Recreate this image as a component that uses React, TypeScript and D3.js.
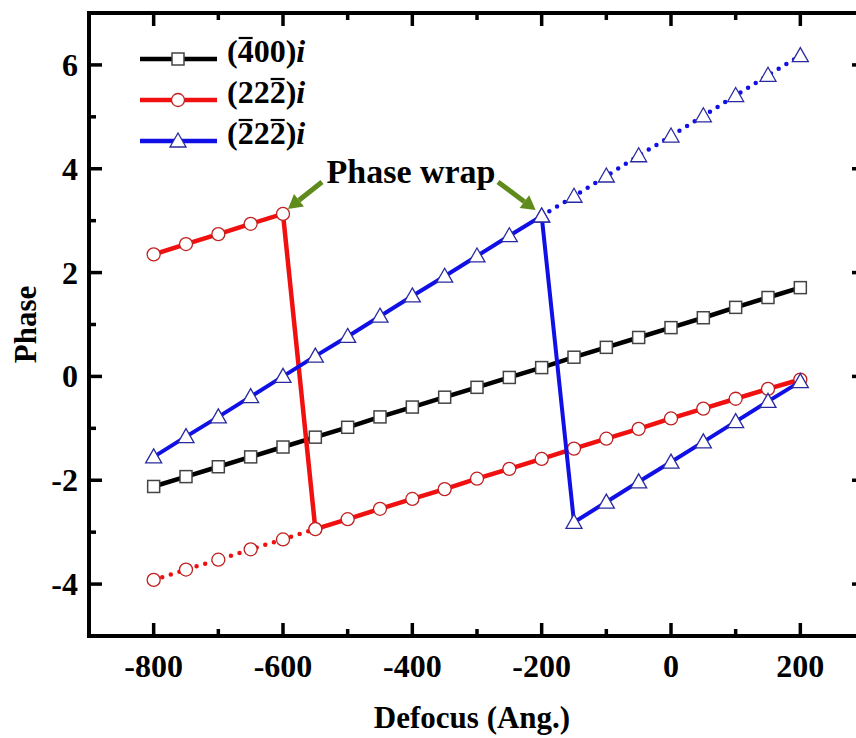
import React, { useEffect, useRef } from 'react';
import * as d3 from 'd3';

const width = 856;
const height = 738;

// defocus values (Ang.)
const defocus = [-800, -750, -700, -650, -600, -550, -500, -450, -400, -350, -300,
  -250, -200, -150, -100, -50, 0, 50, 100, 150, 200];

// (-400)i
const phase400 = [-2.12, -1.93, -1.74, -1.55, -1.36, -1.17, -0.98, -0.78, -0.59, -0.40, -0.21,
  -0.02, 0.17, 0.37, 0.56, 0.75, 0.94, 1.13, 1.33, 1.52, 1.71];

// (22-2)i, wrapped
const phase222 = [2.35, 2.55, 2.74, 2.94, 3.13, -2.94, -2.75, -2.55, -2.36, -2.17, -1.97,
  -1.78, -1.59, -1.39, -1.20, -1.01, -0.81, -0.62, -0.43, -0.24, -0.06];
// (22-2)i, unwrapped part (dotted)
const defocus222Unwrap = [-800, -750, -700, -650, -600, -550];
const phase222Unwrap = [-3.92, -3.72, -3.53, -3.33, -3.14, -2.94];

// (-22-2)i, wrapped
const phaseN222 = [-1.55, -1.16, -0.78, -0.39, 0.0, 0.39, 0.77, 1.16, 1.55, 1.93, 2.32,
  2.71, 3.09, -2.81, -2.42, -2.03, -1.65, -1.26, -0.87, -0.48, -0.10];
// (-22-2)i, unwrapped part (dotted)
const defocusN222Unwrap = [-200, -150, -100, -50, 0, 50, 100, 150, 200];
const phaseN222Unwrap = [3.09, 3.47, 3.86, 4.25, 4.63, 5.02, 5.41, 5.80, 6.18];

const xMajor = [-800, -600, -400, -200, 0, 200];
const xMinor = [-700, -500, -300, -100, 100];
const yMajor = [-4, -2, 0, 2, 4, 6];
const yMinor = [-3, -1, 1, 3, 5];

// legend labels: text + indexes of characters with a bar on top
const legendLabels = ['(400)', '(222)', '(222)'];
const legendBars = [[1], [3], [1, 3]];

const FONT = "'Liberation Serif', 'Times New Roman', serif";

export default function App() {
  const ref = useRef<SVGSVGElement>(null);

  useEffect(() => {
    const svg = d3.select(ref.current);
    svg.selectAll('*').remove();

    const margin = { top: 13, right: -9, bottom: 102, left: 89 };
    const innerW = width - margin.left - margin.right;
    const innerH = height - margin.top - margin.bottom;

    const x = d3.scaleLinear().domain([-900, 300]).range([0, innerW]);
    const y = d3.scaleLinear().domain([-5, 7]).range([innerH, 0]);

    const g = svg.append('g').attr('transform', `translate(${margin.left},${margin.top})`);

    const line = d3.line<[number, number]>()
      .x(d => x(d[0]))
      .y(d => y(d[1]));
    const zip = (xs: number[], ys: number[]) => xs.map((v, i) => [v, ys[i]] as [number, number]);

    // draws one series: line then markers
    function drawSeries(pts: [number, number][], color: string, marker: string, markerStroke: string, dotted: boolean, lw: number) {
      g.append('path')
        .datum(pts)
        .attr('d', line)
        .attr('fill', 'none')
        .attr('stroke', color)
        .attr('stroke-width', dotted ? 4.5 : lw)
        .attr('stroke-linecap', dotted ? 'round' : 'butt')
        .attr('stroke-linejoin', 'round')
        .attr('stroke-dasharray', dotted ? '0 9' : null);
      drawMarkers(g, pts.map(p => [x(p[0]), y(p[1])] as [number, number]), marker, markerStroke);
    }

    function drawMarkers(sel: any, pts: [number, number][], marker: string, stroke: string) {
      pts.forEach(([px, py]) => {
        if (marker === 'square') {
          sel.append('rect').attr('x', px - 6).attr('y', py - 6).attr('width', 12).attr('height', 12)
            .attr('fill', 'white').attr('stroke', stroke).attr('stroke-width', 1.5);
        } else if (marker === 'circle') {
          sel.append('circle').attr('cx', px).attr('cy', py).attr('r', 6.5)
            .attr('fill', 'white').attr('stroke', stroke).attr('stroke-width', 1.3);
        } else {
          sel.append('path')
            .attr('d', `M${px},${py - 8}L${px + 8},${py + 6}L${px - 8},${py + 6}Z`)
            .attr('fill', 'white').attr('stroke', stroke).attr('stroke-width', 1.3);
        }
      });
    }

    const black = '#000000';
    const red = '#f01010';
    const blue = '#1010e6';

    // series
    drawSeries(zip(defocus, phase400), black, 'square', '#444', false, 4.5);
    drawSeries(zip(defocus222Unwrap, phase222Unwrap), red, 'circle', '#c02020', true, 4.5);
    drawSeries(zip(defocus, phase222), red, 'circle', '#c02020', false, 4.5);
    drawSeries(zip(defocusN222Unwrap, phaseN222Unwrap), blue, 'triangle', '#2a2aa0', true, 4.5);
    drawSeries(zip(defocus, phaseN222), blue, 'triangle', '#2a2aa0', false, 4);

    // frame
    g.append('rect').attr('x', 0).attr('y', 0).attr('width', innerW).attr('height', innerH)
      .attr('fill', 'none').attr('stroke', '#000').attr('stroke-width', 4);

    // ticks (inward on all sides)
    const tickW = 3.5;
    const addX = (vals: number[], len: number) => {
      vals.forEach(v => {
        g.append('line').attr('x1', x(v)).attr('x2', x(v)).attr('y1', innerH).attr('y2', innerH - len)
          .attr('stroke', '#000').attr('stroke-width', tickW);
        g.append('line').attr('x1', x(v)).attr('x2', x(v)).attr('y1', 0).attr('y2', len)
          .attr('stroke', '#000').attr('stroke-width', tickW);
      });
    };
    const addY = (vals: number[], len: number) => {
      vals.forEach(v => {
        g.append('line').attr('x1', 0).attr('x2', len).attr('y1', y(v)).attr('y2', y(v))
          .attr('stroke', '#000').attr('stroke-width', tickW);
        g.append('line').attr('x1', innerW).attr('x2', innerW - len).attr('y1', y(v)).attr('y2', y(v))
          .attr('stroke', '#000').attr('stroke-width', tickW);
      });
    };
    addX(xMajor, 13);
    addX(xMinor, 7);
    addY(yMajor, 13);
    addY(yMinor, 7);

    // tick labels
    g.selectAll('.xlab').data(xMajor).enter().append('text')
      .attr('x', d => x(d)).attr('y', innerH + 41)
      .attr('text-anchor', 'middle')
      .style('font-family', FONT).style('font-weight', 'bold').style('font-size', '32px')
      .text(d => String(d));
    g.selectAll('.ylab').data(yMajor).enter().append('text')
      .attr('x', -11).attr('y', d => y(d) + 11)
      .attr('text-anchor', 'end')
      .style('font-family', FONT).style('font-weight', 'bold').style('font-size', '32px')
      .text(d => String(d));

    // axis titles
    svg.append('text')
      .attr('x', 472).attr('y', 728)
      .attr('text-anchor', 'middle')
      .style('font-family', FONT).style('font-weight', 'bold').style('font-size', '31px')
      .text('Defocus (Ang.)');
    svg.append('text')
      .attr('transform', `translate(36,${margin.top + innerH / 2}) rotate(-90)`)
      .attr('text-anchor', 'middle')
      .style('font-family', FONT).style('font-weight', 'bold').style('font-size', '31px')
      .text('Phase');

    // legend
    const legendColors = [black, red, blue];
    const legendMarkers = ['square', 'circle', 'triangle'];
    const legendStrokes = ['#444', '#c02020', '#2a2aa0'];
    legendLabels.forEach((label, i) => {
      const ly = 59 + i * 41;
      svg.append('line').attr('x1', 140).attr('x2', 217).attr('y1', ly).attr('y2', ly)
        .attr('stroke', legendColors[i]).attr('stroke-width', 4.5);
      drawMarkers(svg, [[178, ly]], legendMarkers[i], legendStrokes[i]);
      const lg = svg.append('g').attr('transform', `translate(227,${ly + 3})`);
      const t = lg.append('text')
        .attr('x', 0).attr('y', 0)
        .style('font-family', FONT).style('font-weight', 'bold').style('font-size', '32px');
      t.append('tspan').text(label);
      t.append('tspan').text('i').style('font-style', 'italic');
      const node = t.node() as SVGTextElement;
      legendBars[i].forEach(ci => {
        const s = node.getStartPositionOfChar(ci).x;
        const e = node.getEndPositionOfChar(ci).x;
        lg.append('line').attr('x1', s + 1).attr('x2', e - 1).attr('y1', -24).attr('y2', -24)
          .attr('stroke', '#000').attr('stroke-width', 2.2);
      });
    });

    // annotation
    svg.append('text')
      .attr('x', 411).attr('y', 183)
      .attr('text-anchor', 'middle')
      .style('font-family', FONT).style('font-weight', 'bold').style('font-size', '34px')
      .text('Phase wrap');

    const green = '#5f8a1c';
    const arrow = (x1: number, y1: number, x2: number, y2: number) => {
      const ang = Math.atan2(y2 - y1, x2 - x1);
      const headLen = 14;
      const headW = 8;
      const bx = x2 - headLen * Math.cos(ang);
      const by = y2 - headLen * Math.sin(ang);
      svg.append('line').attr('x1', x1).attr('y1', y1).attr('x2', bx).attr('y2', by)
        .attr('stroke', green).attr('stroke-width', 5);
      const px = -Math.sin(ang) * headW;
      const py = Math.cos(ang) * headW;
      svg.append('path')
        .attr('d', `M${x2},${y2}L${bx + px},${by + py}L${bx - px},${by - py}Z`)
        .attr('fill', green);
    };
    const tip1x = margin.left + x(-600) + 5;
    const tip1y = margin.top + y(3.13) - 5;
    arrow(322, 182, tip1x, tip1y);
    const tip2x = margin.left + x(-200) - 6;
    const tip2y = margin.top + y(3.09) - 6;
    arrow(498, 182, tip2x, tip2y);
  }, []);

  return (
    <svg ref={ref} width={width} height={height}
      style={{ position: 'absolute', left: 0, top: 0, background: 'white' }} />
  );
}
